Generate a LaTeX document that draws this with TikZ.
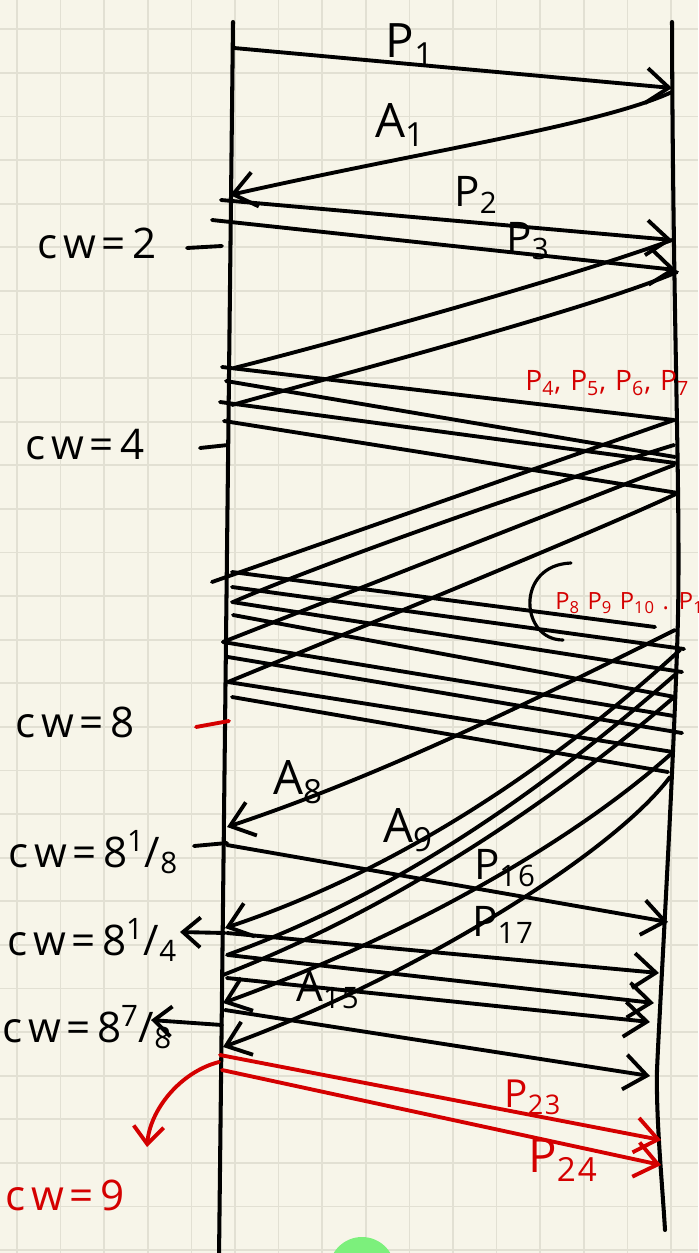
\documentclass[tikz,border=0pt]{standalone}
\usepackage{fontspec}
\setmainfont{Open Sans}
\newfontfamily\handfont[LetterSpace=6]{Open Sans}
\newfontfamily\cwfont[LetterSpace=14]{Open Sans}
\usepackage{tikz}
\usetikzlibrary{arrows.meta}
\definecolor{paper}{HTML}{F7F5E9}
\definecolor{gridgray}{HTML}{E2E0D3}
\definecolor{inkred}{HTML}{D40000}
\definecolor{blobgreen}{HTML}{7CF07C}
\tikzset{
  lifeline/.style={line width=2.3pt,line cap=round,draw=black},
  wire/.style={line width=2.2pt,line cap=round,draw=#1},
  wire/.default={black},
  msg/.style={wire=#1,-{Straight Barb[length=4.5mm,width=7mm]}},
  msg/.default={black},
  tickarrow/.style={wire=#1,-{Straight Barb[length=3.5mm,width=6mm]}},
  tickarrow/.default={black},
  gridline/.style={line width=1pt,draw=gridgray},
  lbl/.style={font=\handfont\fontsize{27}{29}\selectfont,inner sep=0pt},
  cwlbl/.style={font=\cwfont\fontsize{24}{26}\selectfont,inner sep=0pt,anchor=west},
  redlbl/.style={font=\handfont\fontsize{16}{18}\selectfont,text=inkred,inner sep=0pt,anchor=west},
}
\begin{document}
\begin{tikzpicture}[x=0.02cm,y=-0.02cm]
  % squared paper
  \fill[paper] (0,0) rectangle (698,1253);
  \useasboundingbox (0,0) rectangle (698,1253);
  \foreach \gx in {0,...,15} \draw[gridline] ({17+43.6*\gx},0) -- ({17+43.6*\gx},1253);
  \foreach \gy in {0,...,28} \draw[gridline] (0,{29.3+43.6*\gy}) -- (698,{29.3+43.6*\gy});
  \fill[blobgreen] (362,1270) circle [radius=33];

  % sender and receiver
  \coordinate (sndtop) at (233,22);
  \coordinate (sndbot) at (219,1258);
  \coordinate (rcvtop) at (672,22);
  \coordinate (rcvbot) at (665,1230);
  \draw[lifeline] (sndtop) -- (sndbot);
  \draw[lifeline] (rcvtop) .. controls (673,350) and (682,520) .. (677,650)
    .. controls (672,800) and (660,1000) .. (657,1070)
    .. controls (656,1120) and (662,1180) .. (rcvbot);

  % first round
  \coordinate (p1s) at (234,48);  \coordinate (p1e) at (672,88);
  \coordinate (a1s) at (672,92);  \coordinate (a1e) at (230,195);
  \draw[msg] (p1s) -- (p1e);
  \draw[msg] (a1s) .. controls (600,125) and (430,150) .. (a1e);
  \node[lbl] (lp1) at (410,45) {P\textsubscript{1}};
  \node[lbl] (la1) at (400,125) {A\textsubscript{1}};

  % cw = 2
  \coordinate (p2s) at (221,200); \coordinate (p2e) at (672,240);
  \coordinate (p3s) at (212,220); \coordinate (p3e) at (676,270);
  \draw[msg] (p2s) -- (p2e);
  \draw[msg] (p3s) -- (p3e);
  \node[lbl,font=\handfont\fontsize{24}{26}\selectfont] (lp2) at (476,195) {P\textsubscript{2}};
  \node[lbl,font=\handfont\fontsize{24}{26}\selectfont] (lp3) at (528,241) {P\textsubscript{3}};
  \coordinate (a2s) at (672,240); \coordinate (a2e) at (234,368);
  \coordinate (a3s) at (677,272); \coordinate (a3e) at (232,405);
  \draw[wire] (a2s) .. controls (572,277) and (333,343) .. (a2e);
  \draw[wire] (a3s) .. controls (597,307) and (332,377) .. (a3e);

  % cw = 4
  \coordinate (p4s) at (222,367); \coordinate (p4e) at (674,420);
  \coordinate (p5s) at (226,381); \coordinate (p5e) at (675,457);
  \coordinate (p6s) at (220,402); \coordinate (p6e) at (675,463);
  \coordinate (p7s) at (224,421); \coordinate (p7e) at (678,493);
  \draw[wire] (p4s) -- (p4e);
  \draw[wire] (p5s) -- (p5e);
  \draw[wire] (p6s) -- (p6e);
  \draw[wire] (p7s) -- (p7e);
  \node[redlbl] (lp4) at (525,383) {P\textsubscript{4}, P\textsubscript{5}, P\textsubscript{6}, P\textsubscript{7}};
  \coordinate (a4s) at (674,420); \coordinate (a4e) at (212,582);
  \coordinate (a5s) at (674,445); \coordinate (a5e) at (233,602);
  \coordinate (a6s) at (674,465); \coordinate (a6e) at (223,642);
  \coordinate (a7s) at (678,493); \coordinate (a7e) at (228,682);
  \draw[wire] (a4s) -- (a4e);
  \draw[wire] (a5s) .. controls (560,480) and (330,560) .. (a5e);
  \draw[wire] (a6s) -- (a6e);
  \draw[wire] (a7s) .. controls (600,530) and (330,640) .. (a7e);

  % cw = 8
  \coordinate (p8s)  at (232,572); \coordinate (p8e)  at (655,627);
  \coordinate (p9s)  at (232,587); \coordinate (p9e)  at (684,649);
  \coordinate (p10s) at (232,602); \coordinate (p10e) at (682,672);
  \coordinate (p11s) at (233,615); \coordinate (p11e) at (675,697);
  \coordinate (p12s) at (223,642); \coordinate (p12e) at (674,716);
  \coordinate (p13s) at (228,657); \coordinate (p13e) at (682,733);
  \coordinate (p14s) at (228,682); \coordinate (p14e) at (673,752);
  \coordinate (p15s) at (232,697); \coordinate (p15e) at (668,772);
  \draw[wire] (p8s) -- (p8e);
  \draw[wire] (p9s) -- (p9e);
  \draw[wire] (p10s) -- (p10e);
  \draw[wire] (p11s) -- (p11e);
  \draw[wire] (p12s) -- (p12e);
  \draw[wire] (p13s) -- (p13e);
  \draw[wire] (p14s) -- (p14e);
  \draw[wire] (p15s) -- (p15e);
  \coordinate (brtop) at (571,563); \coordinate (brbot) at (563,640);
  \draw[wire,line width=1.8pt] (brtop) .. controls (515,565) and (520,640) .. (brbot);
  \node[redlbl,font=\handfont\fontsize{13.5}{15}\selectfont] (lp8) at (555,603)
    {P\textsubscript{8} P\textsubscript{9} P\textsubscript{10} . P\textsubscript{11}};

  \coordinate (a8s)  at (675,630); \coordinate (a8e)  at (227,827);
  \coordinate (a9s)  at (680,650); \coordinate (a9e)  at (225,928);
  \coordinate (a10s) at (677,673); \coordinate (a10e) at (227,955);
  \coordinate (a11s) at (673,698); \coordinate (a11e) at (223,975);
  \coordinate (a12s) at (672,753); \coordinate (a12e) at (223,1003);
  \coordinate (a13s) at (670,777); \coordinate (a13e) at (223,1047);
  \draw[msg] (a8s) .. controls (525,705) and (377,777) .. (a8e);
  \draw[msg] (a9s) .. controls (560,760) and (405,868) .. (a9e);
  \draw[wire] (a10s) .. controls (557,778) and (407,890) .. (a10e);
  \draw[wire] (a11s) .. controls (563,793) and (403,905) .. (a11e);
  \draw[msg] (a12s) .. controls (572,843) and (403,938) .. (a12e);
  \draw[msg] (a13s) .. controls (610,857) and (403,982) .. (a13e);
  \node[lbl] (la8) at (298,782) {A\textsubscript{8}};
  \node[lbl] (la9) at (408,830) {A\textsubscript{9}};
  \node[lbl,font=\handfont\fontsize{24}{26}\selectfont] (la15) at (328,990) {A\textsubscript{15}};

  % cw = 8 1/8 and on
  \coordinate (p16s) at (227,845); \coordinate (p16e) at (668,922);
  \coordinate (p17s) at (227,933); \coordinate (p17e) at (659,973);
  \coordinate (p18s) at (228,955); \coordinate (p18e) at (654,1003);
  \coordinate (p19s) at (227,978); \coordinate (p19e) at (650,1022);
  \coordinate (p20s) at (225,1010); \coordinate (p20e) at (650,1076);
  \draw[msg] (p16s) -- (p16e);
  \draw[msg] (p17s) -- (p17e);
  \draw[msg] (p18s) -- (p18e);
  \draw[msg] (p19s) -- (p19e);
  \draw[msg] (p20s) -- (p20e);
  \node[lbl,font=\handfont\fontsize{24}{26}\selectfont] (lp16) at (505,868) {P\textsubscript{16}};
  \node[lbl,font=\handfont\fontsize{24}{26}\selectfont] (lp17) at (503,925) {P\textsubscript{17}};

  % cw = 9
  \coordinate (p23s) at (220,1055); \coordinate (p23e) at (661,1140);
  \coordinate (p24s) at (222,1070); \coordinate (p24e) at (661,1165);
  \draw[msg=inkred] (p23s) -- (p23e);
  \draw[msg=inkred] (p24s) -- (p24e);
  \node[lbl,font=\handfont\fontsize{22}{24}\selectfont,text=inkred] (lp23) at (533,1097) {P\textsubscript{23}};
  \node[lbl,font=\handfont\fontsize{27}{29}\selectfont,text=inkred] (lp24) at (563,1160) {P\textsubscript{24}};

  % window marks
  \coordinate (t2a) at (187,248);  \coordinate (t2b) at (222,246);
  \coordinate (t4a) at (200,448);  \coordinate (t4b) at (228,445);
  \coordinate (t8a) at (196,727);  \coordinate (t8b) at (229,721);
  \coordinate (t81a) at (194,846); \coordinate (t81b) at (227,843);
  \coordinate (t82a) at (225,933); \coordinate (t82b) at (180,932);
  \coordinate (t87a) at (222,1025); \coordinate (t87b) at (151,1020);
  \coordinate (t9a) at (219,1062); \coordinate (t9b) at (147,1147);
  \draw[wire] (t2a) -- (t2b);
  \draw[wire] (t4a) -- (t4b);
  \draw[wire=inkred] (t8a) -- (t8b);
  \draw[wire] (t81a) -- (t81b);
  \draw[tickarrow] (t82a) -- (t82b);
  \draw[tickarrow] (t87a) -- (t87b);
  \draw[tickarrow=inkred] (t9a) .. controls (180,1072) and (150,1110) .. (t9b);

  \node[cwlbl] (cw2) at (37,243) {cw=2};
  \node[cwlbl] (cw4) at (25,445) {cw=4};
  \node[cwlbl] (cw8) at (15,722) {cw=8};
  \node[cwlbl] (cw81) at (8,852) {cw=8\textsuperscript{1}/\textsubscript{8}};
  \node[cwlbl] (cw82) at (7,940) {cw=8\textsuperscript{1}/\textsubscript{4}};
  \node[cwlbl] (cw87) at (2,1027) {cw=8\textsuperscript{7}/\textsubscript{8}};
  \node[cwlbl,text=inkred] (cw9) at (5,1195) {cw=9};
\end{tikzpicture}
\end{document}
